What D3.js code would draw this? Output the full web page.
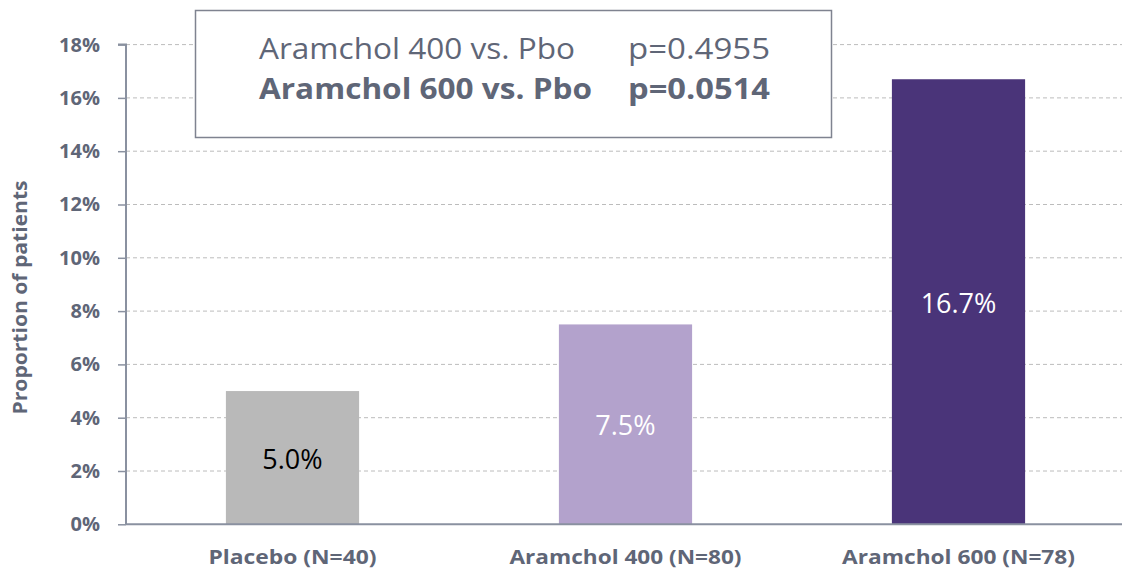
<!DOCTYPE html>
<html><head><meta charset="utf-8">
<script src="https://cdn.jsdelivr.net/npm/d3@7"></script>
<style>body{margin:0;background:#fff}svg{display:block}</style>
</head><body>
<svg id="c" width="1122" height="572"></svg>
<script>
const categories = ["Placebo (N=40)", "Aramchol 400 (N=80)", "Aramchol 600 (N=78)"];
const values = [5.0, 7.5, 16.7];
const valueLabels = ["5.0%", "7.5%", "16.7%"];
const barColors = ["#b9b9b9", "#b3a2cc", "#4a3479"];
const labelColors = ["#000000", "#ffffff", "#ffffff"];
const yTicks = [0, 2, 4, 6, 8, 10, 12, 14, 16, 18];
const yTitle = "Proportion of patients";
const boxLines = [
  {left: "Aramchol 400 vs. Pbo", right: "p=0.4955", bold: false},
  {left: "Aramchol 600 vs. Pbo", right: "p=0.0514", bold: true}
];

const svg = d3.select("#c");
const font = "'Open Sans', 'Noto Sans', sans-serif";
const textCol = "#5f6677";
const axisCol = "#8a91a0";
const x0 = 126, x1 = 1125, yTop = 44.6, yBot = 524.3;

const x = d3.scaleBand().domain(categories).range([x0, x1]).paddingInner(0.6).paddingOuter(0.3);
const y = d3.scaleLinear().domain([0, 18]).range([yBot, yTop]);

// grid
svg.append("g").selectAll("line").data(yTicks.filter(t => t > 0)).join("line")
  .attr("x1", x0).attr("x2", 1122).attr("y1", d => y(d)).attr("y2", d => y(d))
  .attr("stroke", "#bcbcbc").attr("stroke-width", 1).attr("stroke-dasharray", "4,3");

// bars
svg.append("g").selectAll("rect").data(values).join("rect")
  .attr("x", (d, i) => x(categories[i])).attr("width", x.bandwidth())
  .attr("y", d => y(d)).attr("height", d => yBot - y(d))
  .attr("fill", (d, i) => barColors[i]);

// value labels
svg.append("g").selectAll("text").data(values).join("text")
  .attr("x", (d, i) => x(categories[i]) + x.bandwidth() / 2)
  .attr("y", d => (y(d) + yBot) / 2 + 11)
  .attr("text-anchor", "middle").attr("font-family", font).attr("font-size", 27)
  .attr("fill", (d, i) => labelColors[i]).text((d, i) => valueLabels[i]);

// y axis
const yAxis = d3.axisLeft(y).tickValues(yTicks).tickFormat(d => d + "%").tickSize(8).tickPadding(18);
const ga = svg.append("g").attr("transform", `translate(${x0},0)`).call(yAxis);
ga.select(".domain").attr("stroke", axisCol).attr("stroke-width", 2).attr("d", `M-8,${yTop}H0V${yBot}`);
ga.selectAll(".tick line").attr("stroke", axisCol).attr("stroke-width", 1.5);
ga.selectAll(".tick text").attr("font-family", font).attr("font-size", 20).attr("font-weight", "bold")
  .attr("fill", textCol);

// x axis
const xLabelWidths = [168, 232, 233];
const xAxis = d3.axisBottom(x).tickSize(0).tickPadding(26);
const gx = svg.append("g").attr("transform", `translate(0,${yBot})`).call(xAxis);
gx.select(".domain").attr("stroke", axisCol).attr("stroke-width", 2).attr("d", `M${x0},0H1122`);
gx.selectAll(".tick text").attr("font-family", font).attr("font-size", 20).attr("font-weight", "bold")
  .attr("fill", textCol)
  .attr("textLength", (d, i) => xLabelWidths[i]).attr("lengthAdjust", "spacingAndGlyphs");

// y title
svg.append("text").attr("transform", `translate(27,${(yTop + yBot) / 2 + 13}) rotate(-90)`)
  .attr("text-anchor", "middle").attr("font-family", font).attr("font-size", 19).attr("font-weight", "bold")
  .attr("fill", textCol).attr("textLength", 234).attr("lengthAdjust", "spacingAndGlyphs").text(yTitle);

// annotation box
const box = svg.append("g");
box.append("rect").attr("x", 195.5).attr("y", 10.5).attr("width", 636).attr("height", 127)
  .attr("fill", "#fff").attr("stroke", "#7f8390").attr("stroke-width", 1.5);
const leftW = [316, 333], rightW = [142, 142];
boxLines.forEach((l, i) => {
  const by = 59 + i * 40;
  box.append("text").attr("x", 259).attr("y", by).attr("font-family", font).attr("font-size", 29)
    .attr("font-weight", l.bold ? "bold" : "normal").attr("fill", textCol)
    .attr("textLength", leftW[i]).attr("lengthAdjust", "spacingAndGlyphs").text(l.left);
  box.append("text").attr("x", 628).attr("y", by).attr("font-family", font).attr("font-size", 29)
    .attr("font-weight", l.bold ? "bold" : "normal").attr("fill", textCol)
    .attr("textLength", rightW[i]).attr("lengthAdjust", "spacingAndGlyphs").text(l.right);
});
</script>
</body></html>
